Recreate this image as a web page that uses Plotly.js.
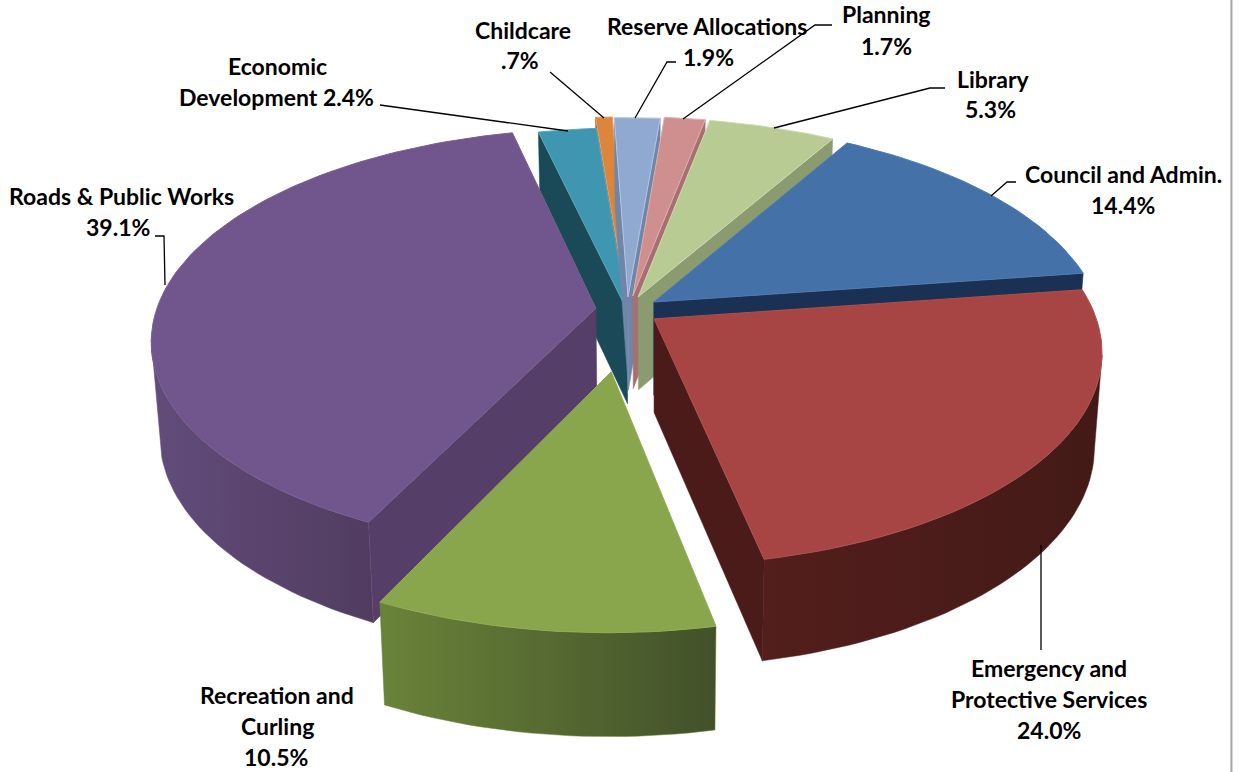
<!DOCTYPE html>
<html>
<head>
<meta charset="utf-8">
<script src="https://cdn.plot.ly/plotly-3.0.1.min.js"></script>
<style>html,body{margin:0;padding:0;background:#fff}#chart{width:1243px;height:772px}</style>
</head>
<body>
<div id="chart"></div>
<script>
// Data, clockwise from the first slice
const categories = ["Council and Admin.","Emergency and Protective Services","Recreation and Curling","Roads & Public Works","Economic Development","Childcare","Reserve Allocations","Planning","Library"];
const shares = [14.4,24.0,10.5,39.1,2.4,0.7,1.9,1.7,5.3];

// Explosion of each slice in the plane of the pie (unit = pie radius)
const offsetX = [0.058,0.058,-0.036,-0.072,-0.002,-0.005,0.000,0.011,0.023];
const offsetY = [-0.010,-0.090,-0.330,-0.040,-0.050,0.020,0.015,0.020,0.015];
const radius  = [1,0.985,0.965,0.985,1,1,1,1,1];

// Styles
const topColors  = ["#4571a9","#a64543","#8aa64c","#70568c","#3f96b0","#dc853b","#8fa9d1","#cf8f8e","#b8cb93"];
const edgeColors = ["#4f7ab0","#ad5250","#90ab55","#75608f","#5aa5bc","#e0a070","#b4c5de","#dcb0ae","#cdd9b6"];
const sideColors = ["#1a3154","#4a1b18","#445326","#553e68","#1a4a58","#96582a","#6f86a8","#a86f70","#8a9b70"];
const arcLeft    = ["#1a3154","#531e1c","#6a8339","#624c7b","#1a4a58","#96582a","#6f86a8","#a86f70","#8a9b70"];
const arcRight   = ["#1a3154","#431a17","#42512a","#513c60","#1a4a58","#96582a","#6f86a8","#a86f70","#8a9b70"];
const drawOrder  = [5,4,6,7,8,0,3,1,2];

// Label lines
const labelLines = [
  ["Childcare",523,30],[".7%",520,60],
  ["Reserve Allocations",707,26],["1.9%",708,57],
  ["Planning",886,14],["1.7%",886,46],
  ["Library",993,79],["5.3%",990,109],
  ["Council and Admin.",1123,174],["14.4%",1123,205],
  ["Economic",277,66],["Development 2.4%",276,97],
  ["Roads & Public Works",121,196],["39.1%",118,227],
  ["Recreation and",277,695],["Curling",277,726],["10.5%",276,757],
  ["Emergency and",1049,668],["Protective Services",1049,699],["24.0%",1049,730]
];
const leaderLines = [
  [[155,164,165],[236,236,285]],
  [[380,568],[105,131]],
  [[550,604],[72,118]],
  [[676,667,635],[62,62,118]],
  [[832,815,683],[25,25,119]],
  [[945,930,774],[88,88,128]],
  [[1016,1007,991],[182,182,196]],
  [[1041,1041],[545,650]]
];

// Projection of the pie plane onto the page
const CX=628, CY=300, A=443, B=207, K=0.15;
function proj(X,Y){const w=1+K*Y;return [CX+A*X/w, CY-B*Y/w];}
function drop(p){const d=93+(p[1]-300)*0.033;return [p[0]+(655-p[0])*0.017,p[1]+d];}

const traces=[];
function poly(pts,fill,lineColor,lineWidth,grad){
  const t={type:'scatter',mode:'lines',x:pts.map(p=>p[0]).concat(pts[0][0]),y:pts.map(p=>p[1]).concat(pts[0][1]),
    fill:'toself',fillcolor:fill,line:{color:lineColor||fill,width:lineWidth===undefined?0.5:lineWidth},hoverinfo:'skip',showlegend:false};
  if(grad) t.fillgradient={type:'horizontal',colorscale:[[0,grad[0]],[1,grad[1]]]};
  traces.push(t);
}

const total=shares.reduce((a,b)=>a+b,0);
let cum=60;
const startA=[],endA=[];
shares.forEach((v,i)=>{startA[i]=cum;cum-=v/total*360;endA[i]=cum;});

drawOrder.forEach(i=>{
  const ox=offsetX[i],oy=offsetY[i],r=radius[i];
  const apex=proj(ox,oy);
  const arc=[];
  const n=Math.max(8,Math.ceil((startA[i]-endA[i])/1.5));
  for(let k=0;k<=n;k++){
    const t=(startA[i]+(endA[i]-startA[i])*k/n)*Math.PI/180;
    arc.push(proj(ox+r*Math.cos(t),oy+r*Math.sin(t)));
  }
  const first=arc[0],last=arc[arc.length-1];
  // radial walls that face the viewer
  if(first[0]<apex[0]) poly([apex,first,drop(first),drop(apex)],sideColors[i]);
  if(apex[0]<last[0]) poly([last,apex,drop(apex),drop(last)],sideColors[i]);
  // visible part of the rim
  const run=[];
  for(let k=0;k<arc.length-1;k++){
    if(arc[k+1][0]<arc[k][0]){ if(!run.length) run.push(arc[k]); run.push(arc[k+1]); }
  }
  if(run.length>1){
    const bottom=run.map(drop).reverse();
    poly(run.concat(bottom),arcLeft[i],arcLeft[i],0.5,[arcLeft[i],arcRight[i]]);
  }
  // top face
  poly([apex].concat(arc),topColors[i],edgeColors[i],1);
});

leaderLines.forEach(l=>traces.push({type:'scatter',mode:'lines',x:l[0],y:l[1],line:{color:'#000',width:1.3},hoverinfo:'skip',showlegend:false}));

const annotations=labelLines.map(l=>({x:l[1],y:l[2],xref:'x',yref:'y',text:l[0],showarrow:false,xanchor:'center',yanchor:'middle',
  font:{family:'Lato, Carlito, sans-serif',size:23,color:'#000',weight:700}}));

Plotly.newPlot('chart',traces,{
  width:1243,height:772,margin:{l:0,r:0,t:0,b:0},
  paper_bgcolor:'#fff',plot_bgcolor:'#fff',showlegend:false,
  xaxis:{range:[0,1243],visible:false,fixedrange:true},
  yaxis:{range:[772,0],visible:false,fixedrange:true},
  annotations:annotations,
  shapes:[{type:'line',xref:'paper',yref:'paper',x0:0.9907,x1:0.9907,y0:0,y1:1,line:{color:'#a6a6a6',width:2}}]
},{displayModeBar:false,staticPlot:true});
</script>
</body>
</html>
